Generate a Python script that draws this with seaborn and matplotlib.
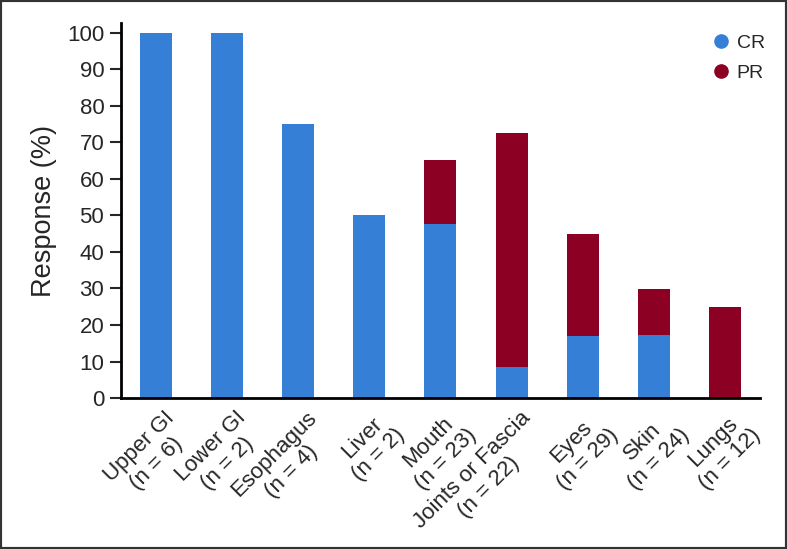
import matplotlib
matplotlib.use("Agg")
import matplotlib.pyplot as plt
import seaborn as sns
import pandas as pd
from matplotlib.lines import Line2D
from matplotlib.transforms import ScaledTranslation

sns.set_theme(style="white")
plt.rcParams['font.family'] = ['Liberation Sans', 'DejaVu Sans']

# data
sites = ["Upper GI\n(n = 6)", "Lower GI\n(n = 2)", "Esophagus\n(n = 4)", "Liver\n(n = 2)",
         "Mouth\n(n = 23)", "Joints or Fascia\n(n = 22)", "Eyes\n(n = 29)",
         "Skin\n(n = 24)", "Lungs\n(n = 12)"]
cr = [100, 100, 75, 50, 47.8, 8.5, 17.0, 17.2, 0]
pr = [0, 0, 0, 0, 17.4, 64.2, 28.0, 12.6, 25.0]

CR_COL = '#3580D6'
PR_COL = '#8B0023'

df = pd.DataFrame({'site': sites, 'CR': cr, 'PR': pr})
df['total'] = df['CR'] + df['PR']

fig = plt.figure(figsize=(7.87, 5.49), dpi=100)
ax = fig.add_axes([0.1537, 0.275, 0.812, 0.683])

# stacked: draw total in PR colour, then CR on top of it
sns.barplot(data=df, x='site', y='total', color=PR_COL, saturation=1, width=0.45,
            linewidth=0, ax=ax)
sns.barplot(data=df, x='site', y='CR', color=CR_COL, saturation=1, width=0.45,
            linewidth=0, ax=ax)

ax.set_xlim(-0.49, 8.49)
ax.set_ylim(0, 102.7)
ax.set_yticks(range(0, 101, 10))
ax.set_xlabel("")
ax.set_ylabel("Response (%)", fontsize=19.5, labelpad=7)
ax.tick_params(axis='y', labelsize=16, length=8, width=1.5, direction='out', left=True, pad=4)
ax.tick_params(axis='x', length=0, labelsize=16, pad=6)

for side in ['top', 'right']:
    ax.spines[side].set_visible(False)
for side in ['left', 'bottom']:
    ax.spines[side].set_linewidth(2)
    ax.spines[side].set_color('black')

handles = [Line2D([0], [0], marker='o', color='none', markerfacecolor=CR_COL, markeredgecolor=CR_COL,
                  markersize=9.5, label='CR'),
           Line2D([0], [0], marker='o', color='none', markerfacecolor=PR_COL, markeredgecolor=PR_COL,
                  markersize=9.5, label='PR')]
ax.legend(handles=handles, loc='upper right', bbox_to_anchor=(1.035, 1.017), frameon=False,
          fontsize=14, handletextpad=0.2, labelspacing=0.65, handlelength=1.2)

# figure frame
fig.patches.append(plt.Rectangle((0, 0), 1, 1, transform=fig.transFigure, fill=False,
                                 edgecolor='#333333', linewidth=3))

shift = ScaledTranslation(0.08, -0.01, fig.dpi_scale_trans)
for lab in ax.get_xticklabels():
    lab.set_rotation(45)
    lab.set_ha('right')
    lab.set_va('top')
    lab.set_rotation_mode('anchor')
    lab.set_multialignment('center')
    lab.set_transform(lab.get_transform() + shift)

fig.savefig("out.png", dpi=100)
